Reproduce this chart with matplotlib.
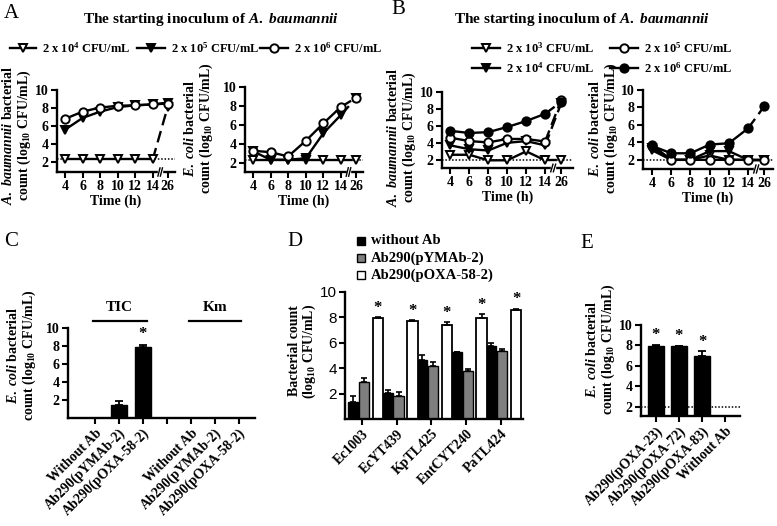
import numpy as np
import matplotlib
matplotlib.use('Agg')
import matplotlib.pyplot as plt
from matplotlib.lines import Line2D
from matplotlib.patches import Rectangle

# data
time_labels = ['4', '6', '8', '10', '12', '14', '26']
x26 = 5.85

a_ab_e4 = [2.3, 2.3, 2.3, 2.3, 2.3, 2.3, 8.1]
a_ab_e5 = [5.6, 6.9, 7.6, 8.1, 8.3, 8.4, 8.6]
a_ab_e6 = [6.8, 7.6, 8.05, 8.25, 8.3, 8.4, 8.5]

a_ec_e4 = [2.3, 2.3, 2.3, 2.3, 2.3, 2.3, 2.3]
a_ec_e5 = [3.2, 2.3, 2.3, 2.45, 5.1, 7.05, 8.8]
a_ec_e6 = [3.25, 3.1, 2.65, 4.3, 6.15, 7.9, 8.85]

b_ab_e3 = [2.65, 2.65, 2.0, 2.0, 3.05, 2.0, 2.0]
b_ab_e4 = [3.75, 3.3, 3.15, 4.05, 4.25, 3.75, 8.7]
b_ab_e5 = [4.65, 4.25, 4.1, 4.5, 4.5, 4.2, 9.1]
b_ab_e6 = [5.45, 5.2, 5.3, 5.9, 6.6, 7.45, 8.85]

b_ec_e3 = [3.1, 2.0, 2.0, 2.5, 2.0, 2.0, 2.0]
b_ec_e4 = [3.4, 2.0, 2.0, 3.0, 3.0, 2.0, 2.0]
b_ec_e5 = [3.7, 2.0, 2.0, 2.0, 2.0, 2.0, 2.0]
b_ec_e6 = [3.6, 2.75, 2.75, 3.75, 3.9, 5.6, 8.15]

c_labels = ['Without Ab', 'Ab290(pYMAb-2)', 'Ab290(pOXA-58-2)']
c_tic = [0, 1.45, 7.9]
c_tic_err = [0, 0.45, 0.2]
c_km = [0, 0, 0]

d_strains = ['Ec1003', 'EcYT439', 'KpTL425', 'EntCYT240', 'PaTL424']
d_without = [1.3, 2.05, 4.65, 5.25, 5.75]
d_without_err = [0.5, 0.2, 0.4, 0.05, 0.2]
d_pymab = [2.95, 1.85, 4.15, 3.8, 5.35]
d_pymab_err = [0.3, 0.3, 0.3, 0.15, 0.15]
d_poxa = [7.95, 7.75, 7.4, 7.95, 8.6]
d_poxa_err = [0.05, 0.05, 0.2, 0.3, 0.1]

e_labels = ['Ab290(pOXA-23)', 'Ab290(pOXA-72)', 'Ab290(pOXA-83)', 'Without Ab']
e_vals = [7.9, 7.9, 7.0, 0]
e_err = [0.15, 0.08, 0.45, 0]

plt.rcParams['font.family'] = ['Liberation Serif', 'DejaVu Serif']
plt.rcParams['font.weight'] = 'bold'
plt.rcParams['axes.labelweight'] = 'bold'
plt.rcParams['mathtext.fontset'] = 'custom'
plt.rcParams['mathtext.rm'] = 'Liberation Serif:bold'
plt.rcParams['mathtext.it'] = 'Liberation Serif:italic:bold'
plt.rcParams['mathtext.bf'] = 'Liberation Serif:bold'

W, H = 777, 526
fig = plt.figure(figsize=(W / 100, H / 100), dpi=100)

FS = 10  # tick / label size


def fx(x):
    return x / W


def fy(y):
    return 1 - y / H


def axes_px(l, t, r, b):
    ax = fig.add_axes([fx(l), fy(b), (r - l) / W, (b - t) / H])
    ax.spines['top'].set_visible(False)
    ax.spines['right'].set_visible(False)
    ax.spines['left'].set_linewidth(1.7)
    ax.spines['bottom'].set_linewidth(1.7)
    ax.tick_params(width=1.5, length=4, labelsize=FS, pad=2)
    ax.set_facecolor('none')
    return ax


def ftext(x, y, s, **kw):
    fig.text(fx(x), fy(y), s, **kw)


STYLES = {
    'open_tri': dict(marker='v', mfc='white', mec='black'),
    'fill_tri': dict(marker='v', mfc='black', mec='black'),
    'open_circ': dict(marker='o', mfc='white', mec='black'),
    'fill_circ': dict(marker='o', mfc='black', mec='black'),
}


def series(ax, vals, style, z):
    pos = [0, 1, 2, 3, 4, 5, x26]
    st = STYLES[style]
    ax.plot(pos[:6], vals[:6], color='black', lw=1.7, ms=6, mew=1.4, zorder=z, clip_on=False, **st)
    ax.plot(pos[5:], vals[5:], color='black', lw=1.7, ls=(0, (5, 2.5)), zorder=z - 0.5, clip_on=False)
    ax.plot([pos[6]], [vals[6]], color='black', ms=6, mew=1.4, zorder=z, clip_on=False, **st)


def time_axis(ax, xl, xr, ylo, limit):
    ax.set_xlim(xl, xr)
    ax.set_ylim(ylo, 10)
    ax.set_xticks([0, 1, 2, 3, 4, 5, x26])
    ax.set_xticklabels(time_labels)
    ax.set_yticks([2, 4, 6, 8, 10])
    ax.set_xlabel('Time (h)', fontsize=FS, labelpad=1)
    ax.axhline(limit, color='black', ls=(0, (1, 1.2)), lw=1.1, zorder=1)
    tr = ax.get_xaxis_transform()
    xb = (5 + x26) / 2
    ax.add_patch(Rectangle((xb - 0.1, -0.03), 0.2, 0.06, transform=tr, color='white', clip_on=False, zorder=5))
    for dx in (-0.07, 0.07):
        ax.plot([xb + dx - 0.06, xb + dx + 0.06], [-0.05, 0.05], transform=tr, color='black', lw=1.0,
                clip_on=False, zorder=6)


def legend_item(x1, x2, y, style, label):
    fig.add_artist(Line2D([fx(x1), fx(x2)], [fy(y), fy(y)], transform=fig.transFigure, color='black', lw=1.7))
    fig.add_artist(Line2D([fx((x1 + x2) / 2)], [fy(y)], transform=fig.transFigure, color='black', ms=6,
                          mew=1.4, **STYLES[style]))
    ftext(x2 + 6, y, label, fontsize=9, va='center')


def ylab(x, y, s):
    ftext(x, y, s, fontsize=FS, rotation=90, ha='center', va='center', multialignment='center',
          linespacing=1.05)


# ---------- panel A ----------
ftext(4, 14, 'A', fontsize=15, fontweight='normal', va='center')
ftext(211, 20, r'The starting inoculum of $\mathit{A.\ baumannii}$', fontsize=11, ha='center', va='center')
legend_item(10, 36, 48, 'open_tri', '2 x 10$^{4}$ CFU/mL')
legend_item(137, 165, 48, 'fill_tri', '2 x 10$^{5}$ CFU/mL')
legend_item(260, 288, 48, 'open_circ', '2 x 10$^{6}$ CFU/mL')

ax = axes_px(57, 90, 175, 172)
time_axis(ax, -0.46, 6.27, 0.9, 2.3)
series(ax, a_ab_e4, 'open_tri', 4)
series(ax, a_ab_e5, 'fill_tri', 5)
series(ax, a_ab_e6, 'open_circ', 6)
ylab(17, 135, '$\\mathit{A.\\ baumannii}$ bacterial\ncount (log$_{10}$ CFU/mL)')

ax = axes_px(245, 87, 363, 172)
time_axis(ax, -0.45, 6.25, 1.0, 2.3)
series(ax, a_ec_e4, 'open_tri', 4)
series(ax, a_ec_e5, 'fill_tri', 5)
series(ax, a_ec_e6, 'open_circ', 6)
ylab(199, 128, '$\\mathit{E.\\ coli}$ bacterial\ncount (log$_{10}$ CFU/mL)')

# ---------- panel B ----------
ftext(391, 10, 'B', fontsize=15, fontweight='normal', va='center')
ftext(582, 20, r'The starting inoculum of $\mathit{A.\ baumannii}$', fontsize=11, ha='center', va='center')
legend_item(472, 500, 48, 'open_tri', '2 x 10$^{3}$ CFU/mL')
legend_item(472, 500, 68, 'fill_tri', '2 x 10$^{4}$ CFU/mL')
legend_item(610, 638, 48, 'open_circ', '2 x 10$^{5}$ CFU/mL')
legend_item(610, 638, 68, 'fill_circ', '2 x 10$^{6}$ CFU/mL')

ax = axes_px(442, 92, 573, 168)
time_axis(ax, -0.44, 6.47, 1.1, 2.0)
series(ax, b_ab_e3, 'open_tri', 4)
series(ax, b_ab_e4, 'fill_tri', 5)
series(ax, b_ab_e5, 'open_circ', 6)
series(ax, b_ab_e6, 'fill_circ', 7)
ylab(402, 137, '$\\mathit{A.\\ baumannii}$ bacterial\ncount (log$_{10}$ CFU/mL)')

ax = axes_px(643, 90, 773, 169)
time_axis(ax, -0.47, 6.3, 0.95, 2.0)
series(ax, b_ec_e3, 'open_tri', 4)
series(ax, b_ec_e4, 'fill_tri', 5)
series(ax, b_ec_e5, 'open_circ', 6)
series(ax, b_ec_e6, 'fill_circ', 7)
ylab(604, 128, '$\\mathit{E.\\ coli}$ bacterial\ncount (log$_{10}$ CFU/mL)')

# ---------- panel C ----------
ftext(4, 242, 'C', fontsize=15, fontweight='normal', va='center')
ax = axes_px(68, 328, 255, 418)
c_pos = [0, 1, 2, 4, 5, 6]
c_vals = c_tic + c_km
c_errs = c_tic_err + [0, 0, 0]
ax.bar(c_pos, c_vals, width=0.67, color='black', edgecolor='black',
       yerr=[np.zeros(6), c_errs], capsize=3, error_kw=dict(lw=1.3, capthick=1.3))
ax.set_xlim(-1.125, 6.67)
ax.set_ylim(0, 10)
ax.set_yticks([2, 4, 6, 8, 10])
ax.set_xticks([0, 1, 2, 3, 4, 5, 6])
ax.set_xticklabels(c_labels[:] + [''] + c_labels[:], rotation=45, ha='right', rotation_mode='anchor',
                   fontsize=FS)
ax.text(2, c_tic[2] + c_tic_err[2] + 0.3, '*', ha='center', va='bottom', fontsize=12)
ax.plot([-0.1, 2.15], [10.8, 10.8], color='black', lw=1.6, clip_on=False)
ax.plot([3.9, 6.1], [10.8, 10.8], color='black', lw=1.6, clip_on=False)
ax.text(1, 11.6, 'TIC', ha='center', va='bottom', fontsize=11)
ax.text(5, 11.6, 'Km', ha='center', va='bottom', fontsize=11)
ylab(22, 355, '$\\mathit{E.\\ coli}$ bacterial\ncount (log$_{10}$ CFU/mL)')

# ---------- panel D ----------
ftext(287, 242, 'D', fontsize=15, fontweight='normal', va='center')
ax = axes_px(345, 292, 523, 419)
g = np.arange(len(d_strains))
bw = 0.3
ek = dict(lw=1.2, capthick=1.2)
n = len(d_strains)
ax.bar(g - 0.27, d_without, bw, color='black', edgecolor='black', lw=1,
       yerr=[np.zeros(n), d_without_err], capsize=2.5, error_kw=ek)
ax.bar(g + 0.05, d_pymab, bw, color='#7f7f7f', edgecolor='black', lw=1,
       yerr=[np.zeros(n), d_pymab_err], capsize=2.5, error_kw=ek)
ax.bar(g + 0.45, d_poxa, bw, color='white', edgecolor='black', lw=1.3,
       yerr=[np.zeros(n), d_poxa_err], capsize=2.5, error_kw=ek)
for i in range(n):
    ax.text(g[i] + 0.45, d_poxa[i] + d_poxa_err[i] + 0.1, '*', ha='center', va='bottom', fontsize=12)
ax.set_xlim(-0.5, 4.65)
ax.set_ylim(0, 10)
ax.set_yticks([2, 4, 6, 8, 10])
ax.set_xticks(g)
ax.set_xticklabels(d_strains, rotation=45, ha='right', rotation_mode='anchor', fontsize=FS)
for lab in ax.get_yticklabels():
    lab.set_fontfamily('Liberation Sans')
    lab.set_fontweight('normal')
    lab.set_fontsize(11)
ylab(303, 351, 'Bacterial count\n(log$_{10}$ CFU/mL)')
for y, fc, lab in [(241, 'black', 'without Ab'), (258, '#7f7f7f', 'Ab290(pYMAb-2)'),
                   (275, 'white', 'Ab290(pOXA-58-2)')]:
    fig.add_artist(Rectangle((fx(357), fy(y + 4)), 8 / W, 8 / H, transform=fig.transFigure,
                             facecolor=fc, edgecolor='black', lw=1))
    ftext(371, y, lab, fontsize=10.5, va='center')

# ---------- panel E ----------
ftext(580, 244, 'E', fontsize=15, fontweight='normal', va='center')
ax = axes_px(641, 325, 740, 416)
e_pos = np.arange(len(e_labels))
ax.axhline(2, color='black', ls=(0, (1, 1.2)), lw=1.1, zorder=0)
ax.bar(e_pos, e_vals, width=0.72, color='black', edgecolor='black', zorder=2,
       yerr=[np.zeros(len(e_vals)), e_err], capsize=3, error_kw=dict(lw=1.3, capthick=1.3))
for i in range(3):
    ax.text(e_pos[i], e_vals[i] + e_err[i] + 0.15, '*', ha='center', va='bottom', fontsize=12)
ax.set_xlim(-0.65, 3.65)
ax.set_ylim(1.1, 10)
ax.set_yticks([2, 4, 6, 8, 10])
ax.set_xticks(e_pos)
ax.set_xticklabels(e_labels, rotation=45, ha='right', rotation_mode='anchor', fontsize=FS)
ylab(601, 349, '$\\mathit{E.\\ coli}$ bacterial\ncount (log$_{10}$ CFU/mL)')

fig.savefig('out.png', dpi=100)
